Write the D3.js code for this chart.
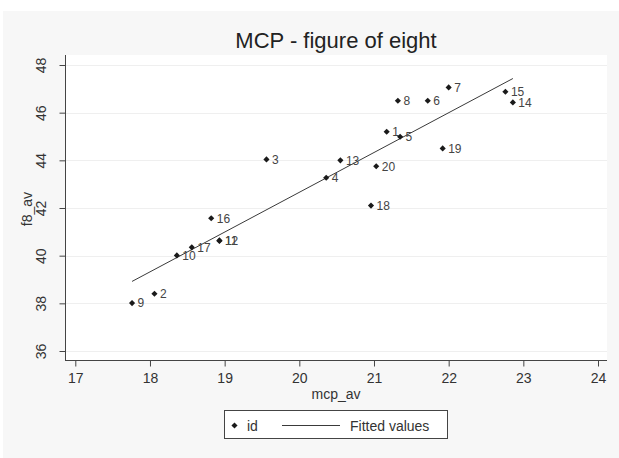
<!DOCTYPE html>
<html>
<head>
<meta charset="utf-8">
<script src="https://d3js.org/d3.v7.min.js"></script>
<style>
  body { margin: 0; background: #fff; }
  svg { display: block; font-family: "Liberation Sans", Arial, sans-serif; }
</style>
</head>
<body>
<svg width="619" height="458"></svg>
<script>
// data
var ids   = [1, 2, 3, 4, 5, 6, 7, 8, 9, 10, 11, 12, 13, 14, 15, 16, 17, 18, 19, 20];
var mcpAv = [21.17, 18.06, 19.56, 20.36, 21.35, 21.72, 22.00, 21.32, 17.76, 18.36,
             18.93, 18.93, 20.55, 22.86, 22.76, 18.82, 18.56, 20.96, 21.92, 21.03];
var f8Av  = [45.20, 38.40, 44.04, 43.27, 44.99, 46.50, 47.06, 46.50, 38.01, 40.01,
             40.62, 40.64, 44.00, 46.43, 46.88, 41.57, 40.35, 42.10, 44.50, 43.75];
var xTicks = [17, 18, 19, 20, 21, 22, 23, 24];
var yTicks = [36, 38, 40, 42, 44, 46, 48];

function drawChart()
{
    var svg = d3.select("svg");

    var points = ids.map(function(id, i) { return {id: id, x: mcpAv[i], y: f8Av[i]}; });

    // plot region
    var left = 65, right = 607, top = 55, bottom = 360;

    var x = d3.scaleLinear().domain([17, 24]).range([75.3, 598]);
    var y = d3.scaleLinear().domain([36, 48]).range([351, 65]);

    // backgrounds
    svg.append("rect").attr("x", 3).attr("y", 11).attr("width", 616).attr("height", 447)
        .attr("fill", "#f7f7f7");
    svg.append("rect").attr("x", left).attr("y", top)
        .attr("width", right - left).attr("height", bottom - top)
        .attr("fill", "#fff");

    // grid
    svg.append("g").selectAll("line")
        .data(yTicks)
        .enter().append("line")
        .attr("x1", left).attr("x2", right)
        .attr("y1", function(d) { return Math.round(y(d)) + 0.5; })
        .attr("y2", function(d) { return Math.round(y(d)) + 0.5; })
        .attr("stroke", "#efefef");

    // least squares fit
    var mx = d3.mean(points, function(d) { return d.x; });
    var my = d3.mean(points, function(d) { return d.y; });
    var sxy = d3.sum(points, function(d) { return (d.x - mx) * (d.y - my); });
    var sxx = d3.sum(points, function(d) { return (d.x - mx) * (d.x - mx); });
    var b = sxy / sxx, a = my - b * mx;
    var ext = d3.extent(points, function(d) { return d.x; });
    var fit = ext.map(function(v) { return {x: v, y: a + b * v}; });

    svg.append("path")
        .datum(fit)
        .attr("d", d3.line().x(function(d) { return x(d.x); }).y(function(d) { return y(d.y); }))
        .attr("fill", "none")
        .attr("stroke", "#3a3a3a")
        .attr("stroke-width", 1);

    // axes
    var xAxis = svg.append("g")
        .attr("transform", "translate(0," + (bottom + 0.5) + ")")
        .call(d3.axisBottom(x).tickValues(xTicks).tickFormat(d3.format("d"))
            .tickSize(6).tickSizeOuter(0).tickPadding(7));
    xAxis.select(".domain").attr("d", "M" + left + ",0H" + right);

    var yAxis = svg.append("g")
        .attr("transform", "translate(" + (left + 0.5) + ",0)")
        .call(d3.axisLeft(y).tickValues(yTicks).tickFormat(d3.format("d"))
            .tickSize(6).tickSizeOuter(0).tickPadding(0));
    yAxis.select(".domain").attr("d", "M0," + top + "V" + bottom);

    svg.selectAll(".domain, .tick line").attr("stroke", "#444");
    svg.selectAll(".tick text").attr("fill", "#333").style("font-size", "14px")
        .style("font-family", "'Liberation Sans', Arial, sans-serif");

    yAxis.selectAll(".tick text")
        .attr("x", 0).attr("dy", 0)
        .attr("transform", "translate(-20,0) rotate(-90)")
        .attr("text-anchor", "middle");

    // points
    var node = svg.append("g").selectAll(".node")
        .data(points)
        .enter().append("g")
        .attr("class", "node")
        .attr("transform", function(d) { return "translate(" + x(d.x) + "," + y(d.y) + ")"; });

    node.append("path")
        .attr("d", d3.symbol().type(d3.symbolDiamond2).size(24))
        .attr("fill", "#1a1a1a");

    node.append("text")
        .attr("x", 5.5)
        .attr("dy", "0.36em")
        .attr("fill", "#444")
        .style("font-size", "12px")
        .text(function(d) { return d.id; });

    // titles
    svg.append("text")
        .attr("x", 336).attr("y", 47.5)
        .attr("text-anchor", "middle")
        .attr("fill", "#222")
        .style("font-size", "22px")
        .text("MCP - figure of eight");

    svg.append("text")
        .attr("x", 336).attr("y", 399)
        .attr("text-anchor", "middle")
        .attr("fill", "#333")
        .style("font-size", "14px")
        .text("mcp_av");

    svg.append("text")
        .attr("transform", "translate(32,209) rotate(-90)")
        .attr("text-anchor", "middle")
        .attr("fill", "#333")
        .style("font-size", "14px")
        .text("f8_av");

    // legend
    var legend = svg.append("g");
    legend.append("rect")
        .attr("x", 224.5).attr("y", 410.5).attr("width", 223).attr("height", 28)
        .attr("fill", "#fff").attr("stroke", "#444");
    legend.append("path")
        .attr("transform", "translate(234.5,425.5)")
        .attr("d", d3.symbol().type(d3.symbolDiamond2).size(24))
        .attr("fill", "#1a1a1a");
    legend.append("text")
        .attr("x", 247).attr("y", 430.5)
        .attr("fill", "#333").style("font-size", "14px")
        .text("id");
    legend.append("line")
        .attr("x1", 282).attr("x2", 340).attr("y1", 425.5).attr("y2", 425.5)
        .attr("stroke", "#3a3a3a");
    legend.append("text")
        .attr("x", 350).attr("y", 430.5)
        .attr("fill", "#333").style("font-size", "14px")
        .text("Fitted values");
}

drawChart();
</script>
</body>
</html>
